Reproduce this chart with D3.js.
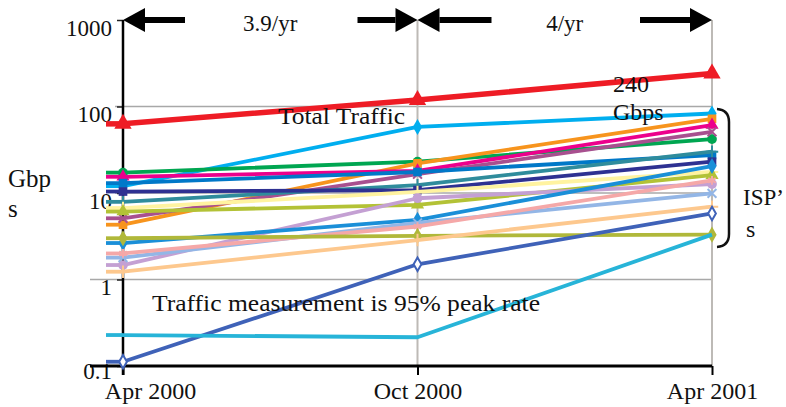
<!DOCTYPE html>
<html><head><meta charset="utf-8">
<script src="https://cdn.jsdelivr.net/npm/d3@7"></script>
<style>body{margin:0;background:#fff}svg{display:block}text{font-family:"Liberation Serif","Times New Roman",serif;fill:#111}</style>
</head><body><svg id="c" width="786" height="407"></svg>
<script>
const categories = ["Apr 2000", "Oct 2000", "Apr 2001"];
const yTicks = [0.1, 1, 10, 100, 1000];
const yTickLabels = ["0.1", "1", "10", "100", "1000"];
const totalTraffic = [63, 119, 240];
const ispValues = [
  [12, 58, 83],
  [17.2, 23, 42],
  [4.3, 22, 72],
  [15.4, 18, 61],
  [5.1, 16.5, 51],
  [13, 17.5, 27.5],
  [7.9, 12.3, 30],
  [10.4, 10.8, 23],
  [6.7, 10.3, 17.5],
  [6.1, 7.3, 16.1],
  [1.47, 8.7, 12.7],
  [2.64, 4.9, 20.5],
  [1.79, 4.5, 9.9],
  [2.0, 4.1, 14],
  [3.0, 3.2, 3.3],
  [1.23, 2.86, 6.95],
  [0.112, 1.5, 5.8],
  [0.228, 0.215, 3.3]
];
const rateLabels = ["3.9/yr", "4/yr"];

// styles (kept apart from data)
const ispColors = ["#00aeef","#00a651","#f7941d","#ec008c","#a8508f","#0078c8","#2f8c9c","#2e3192","#fff3a0","#b3c236","#c4a0d3","#1a8fd8","#93b6e6","#f5a8a8","#b0b83a","#fdc88e","#3f62b8","#27b4d8"];
const ispMarkers = ["diamond","circle","square","triangle","times","square","plus","square","plus","triangle","circle","diamond","times","asterisk","diamond","plus","odiamond","none"];

const svg = d3.select("#c");
const x = d3.scalePoint().domain(categories).range([123, 712]);
const y = d3.scaleLog().domain([0.1, 1000]).range([366, 20]);

// gridlines
svg.append("g").selectAll("line").data([1, 10, 100]).join("line")
  .attr("x1", d => d === 1 ? 90 : x(categories[0]) - 8).attr("x2", x(categories[2]))
  .attr("y1", d => y(d)).attr("y2", d => y(d))
  .attr("stroke", "#a8a8a8").attr("stroke-width", 1.5);
svg.append("g").selectAll("line").data(categories.slice(1)).join("line")
  .attr("x1", d => x(d)).attr("x2", d => x(d))
  .attr("y1", y(1000)).attr("y2", y(0.1))
  .attr("stroke", "#bdbab6").attr("stroke-width", 2);

// y axis
const yAxis = svg.append("g").attr("transform", `translate(${x(categories[0])},0)`)
  .call(d3.axisLeft(y).tickValues(yTicks).tickSize(6).tickSizeOuter(0)
    .tickFormat((d, i) => yTickLabels[i]));
yAxis.select(".domain").remove();
yAxis.selectAll(".tick line").attr("stroke", "#222").attr("stroke-width", 1.5);
yAxis.selectAll(".tick text").attr("x", -11).attr("dy", (d, i) => i === 0 ? "0.56em" : "0.66em")
  .style("font-family", '"Liberation Serif",serif').style("font-size", "23px").attr("fill", "#111");
svg.append("line").attr("x1", x(categories[0])).attr("x2", x(categories[0]))
  .attr("y1", y(1000)).attr("y2", y(0.1) + 9).attr("stroke", "#000").attr("stroke-width", 2.5);

// x axis
const xAxis = svg.append("g").attr("transform", `translate(0,${y(0.1)})`)
  .call(d3.axisBottom(x).tickSize(9).tickSizeOuter(0));
xAxis.select(".domain").remove();
xAxis.selectAll(".tick line").attr("stroke", "#000").attr("stroke-width", 2);
xAxis.selectAll(".tick text").attr("y", 33).attr("dy", 0)
  .attr("dx", (d, i) => i === 0 ? 27 : 0)
  .style("font-family", '"Liberation Serif",serif').style("font-size", "24px").attr("fill", "#111");
svg.append("line").attr("x1", 90).attr("x2", x(categories[2]))
  .attr("y1", y(0.1)).attr("y2", y(0.1)).attr("stroke", "#000").attr("stroke-width", 3);

// series
const line = d3.line().x((d, i) => x(categories[i])).y(d => y(d));
function symbolFor(name) {
  const m = {circle: d3.symbolCircle, square: d3.symbolSquare, triangle: d3.symbolTriangle,
    diamond: d3.symbolDiamond, odiamond: d3.symbolDiamond,
    times: d3.symbolTimes || d3.symbolCross, plus: d3.symbolPlus || d3.symbolCross,
    asterisk: d3.symbolAsterisk || d3.symbolCross};
  return m[name];
}
function drawSeries(vals, color, marker, width, size) {
  const g = svg.append("g");
  g.append("line").attr("x1", x(categories[0]) - 17).attr("x2", x(categories[0]))
    .attr("y1", y(vals[0])).attr("y2", y(vals[0])).attr("stroke", color).attr("stroke-width", width);
  g.append("path").attr("d", line(vals)).attr("fill", "none")
    .attr("stroke", color).attr("stroke-width", width).attr("stroke-linejoin", "round");
  if (marker === "none") return;
  const stroked = ["times", "plus", "asterisk", "odiamond"].includes(marker);
  g.selectAll("path.m").data(vals).join("path").attr("class", "m")
    .attr("transform", (d, i) => `translate(${x(categories[i])},${y(d)})`)
    .attr("d", d3.symbol().type(symbolFor(marker)).size(stroked ? size * 0.7 : size))
    .attr("fill", stroked ? (marker === "odiamond" ? "#fff" : "none") : color)
    .attr("stroke", color).attr("stroke-width", stroked ? 2 : 0);
}
ispValues.forEach((v, i) => drawSeries(v, ispColors[i], ispMarkers[i], 3.8, 75));
drawSeries(totalTraffic, "#ee1c25", "triangle", 5.5, 130);

// rate arrows
const ay = y(1000);
function arrow(tipX, dir, len) {
  const g = svg.append("g");
  const hb = tipX - dir * 22;
  g.append("line").attr("x1", hb).attr("x2", hb - dir * len).attr("y1", ay).attr("y2", ay)
    .attr("stroke", "#000").attr("stroke-width", 6);
  g.append("path").attr("d", `M${tipX},${ay}L${hb},${ay - 12}L${hb},${ay + 12}Z`).attr("fill", "#000");
}
arrow(x(categories[0]), -1, 40);
arrow(x(categories[1]), 1, 38);
arrow(x(categories[1]), -1, 52);
arrow(x(categories[2]), 1, 50);
svg.append("text").attr("x", (x(categories[0]) + x(categories[1])) / 2).attr("y", 31)
  .attr("text-anchor", "middle").style("font-size", "23px").text(rateLabels[0]);
svg.append("text").attr("x", (x(categories[1]) + x(categories[2])) / 2).attr("y", 31)
  .attr("text-anchor", "middle").style("font-size", "23px").text(rateLabels[1]);

// annotations
svg.append("text").attr("x", 278).attr("y", 124).style("font-size", "24px")
  .attr("textLength", 127).attr("lengthAdjust", "spacingAndGlyphs").text("Total Traffic");
svg.append("text").attr("x", 613).attr("y", 92).style("font-size", "24px").text("240");
svg.append("text").attr("x", 613).attr("y", 120).style("font-size", "24px").text("Gbps");
svg.append("text").attr("x", 152).attr("y", 311).style("font-size", "24px")
  .attr("textLength", 388).attr("lengthAdjust", "spacingAndGlyphs").text("Traffic measurement is 95% peak rate");
svg.append("text").attr("x", 8).attr("y", 187).style("font-size", "25px").text("Gbp");
svg.append("text").attr("x", 8).attr("y", 217).style("font-size", "25px").text("s");
svg.append("text").attr("x", 743).attr("y", 205).style("font-size", "23px").text("ISP’");
svg.append("text").attr("x", 746).attr("y", 237).style("font-size", "24px").text("s");
svg.append("path").attr("d", "M717,109 Q729,110 729,122 L729,234 Q729,246 717,247")
  .attr("fill", "none").attr("stroke", "#111").attr("stroke-width", 2.5);
</script></body></html>
